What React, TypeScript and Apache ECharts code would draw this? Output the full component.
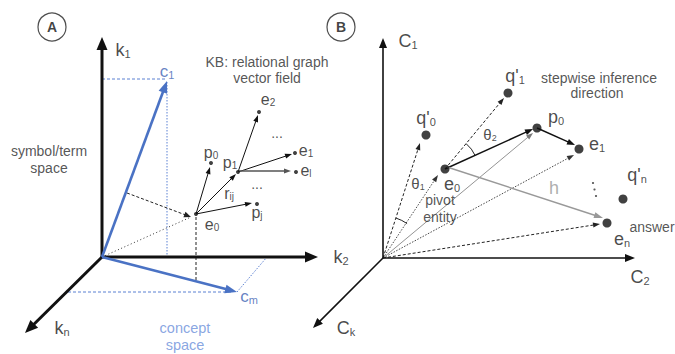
import React, { useEffect, useRef } from "react";
import * as echarts from "echarts";

const W = 675;
const H = 354;
const FONT = "'Liberation Sans', Arial, Helvetica, sans-serif";

// ---------- Panel A: segments [x1, y1, x2, y2] ----------
const axesA = [[102, 257, 102, 37], [102, 257, 318, 257], [102, 257, 25, 333]];
const conceptVectorsA = [[102, 257, 167, 81], [102, 257, 237, 292]];
const conceptDashedA = [[102, 79, 167, 79], [68, 292, 233, 292]];
const conceptDottedA = [[167, 82, 167, 257], [237, 292, 267, 257]];
const projectionArrowA = [[127, 193, 191, 217]];
const projectionDropA = [[196, 217, 196, 281]];
const entityRayA = [[102, 257, 191, 217]];
const relationArrowsA = [[196, 214, 210, 167], [196, 214, 236, 174], [196, 214, 252, 203], [238, 172, 258, 115], [238, 172, 292, 154]];
const relationGrayA = [[238, 171, 291, 171]];
const entityDotsA = [[196, 214], [211, 163], [238, 172], [257, 204], [259, 112], [295, 153], [296, 172]];

// ---------- Panel B ----------
const axesB = [[383, 258, 383, 38], [383, 258, 635, 258], [383, 258, 313, 328]];
const dashedArrowsB = [[383, 258, 420, 143], [383, 258, 600, 224], [445, 169, 504, 98]];
const dottedArrowsB = [[383, 258, 438, 175], [383, 258, 574, 155]];
const grayRayB = [[383, 258, 533, 133]];
const inferencePathB = [[445, 169, 533, 129], [537, 128, 575, 145]];
const hopB = [[447, 167, 603, 218]];
const entityDotsB = [[445, 169], [426, 135], [508, 93], [537, 128], [579, 149], [623, 199], [607, 223]];
const ellipsisDotsB = [[593, 183], [594.5, 189.5], [596, 196]];
const angleArcsB = [[383, 258, 42, 55, 72], [445, 169, 33, 24, 50]]; // cx, cy, r, fromDeg, toDeg
const badges = [["A", 52, 27], ["B", 341, 27]];

// ---------- Labels: [main, sub, centerX, baselineY] ----------
const mathLabelsLarge = [
  ["k", "1", 123, 56], ["k", "2", 341, 263], ["k", "n", 62, 334],
  ["C", "1", 408, 47], ["C", "2", 640, 283], ["C", "k", 346, 334],
  ["q'", "0", 426, 124], ["q'", "1", 515, 82], ["p", "0", 556, 123],
  ["e", "1", 597, 150], ["q'", "n", 637, 181], ["e", "n", 622, 245], ["e", "0", 452, 190],
];
const blueMathLabels = [["c", "1", 167, 77], ["c", "m", 249, 302]];
const grayMathLabels = [["h", "", 554, 194]];
const mathLabelsSmall = [
  ["e", "0", 212, 230], ["p", "0", 211, 158], ["p", "1", 230, 168], ["r", "ij", 229, 199],
  ["p", "j", 257, 218], ["e", "2", 268, 105], ["e", "1", 306, 156], ["e", "l", 306, 176],
];
const angleLabels = [["θ", "1", 418, 189], ["θ", "2", 490, 140]];
const textLabels = [
  ["symbol/term", "", 49, 156], ["space", "", 49, 173],
  ["KB: relational graph", "", 267, 67], ["vector field", "", 267, 83],
  ["stepwise inference", "", 599, 83], ["direction", "", 597, 98],
  ["pivot", "", 440, 205], ["entity", "", 440, 222], ["answer", "", 652, 232],
  ["...", "", 277, 138], ["...", "", 257, 189],
];
const blueTextLabels = [["concept", "", 185, 333], ["space", "", 185, 350]];

function arrowSeries(data: number[][], o: { color: string; width: number; dash?: number[]; head?: [number, number]; z?: number }) {
  return {
    type: "custom",
    coordinateSystem: "cartesian2d",
    clip: false,
    silent: true,
    z: o.z ?? 2,
    data,
    encode: { x: [0, 2], y: [1, 3] },
    renderItem: (_p: any, api: any) => {
      const a = api.coord([api.value(0), api.value(1)]);
      const b = api.coord([api.value(2), api.value(3)]);
      const dx = b[0] - a[0];
      const dy = b[1] - a[1];
      const len = Math.sqrt(dx * dx + dy * dy) || 1;
      const ux = dx / len;
      const uy = dy / len;
      const children: any[] = [];
      let ex = b[0];
      let ey = b[1];
      if (o.head) {
        const [hl, hw] = o.head;
        const bx = b[0] - ux * hl;
        const by = b[1] - uy * hl;
        const nx = -uy * hw / 2;
        const ny = ux * hw / 2;
        ex = b[0] - ux * hl * 0.8;
        ey = b[1] - uy * hl * 0.8;
        children.push({
          type: "polygon",
          shape: { points: [[b[0], b[1]], [bx + nx, by + ny], [bx - nx, by - ny]] },
          style: { fill: o.color },
          z2: 2,
        });
      }
      children.unshift({
        type: "line",
        shape: { x1: a[0], y1: a[1], x2: ex, y2: ey },
        style: { stroke: o.color, lineWidth: o.width, lineDash: o.dash || null, fill: null },
        z2: 1,
      });
      return { type: "group", children };
    },
  };
}

function labelSeries(items: any[], S: number, color: string, bold = false) {
  const s = Math.round(S * 0.62);
  const drop = S * 0.08;
  const pd = 2 * (drop + 0.35 * (S - s));
  return {
    type: "scatter",
    silent: true,
    z: 6,
    symbolSize: 1,
    itemStyle: { color: "rgba(0,0,0,0)" },
    data: items.map((it) => ({
      value: [it[2], it[3] - 0.35 * S],
      main: it[0],
      sub: it[1],
    })),
    label: {
      show: true,
      position: "inside",
      align: "center",
      verticalAlign: "middle",
      color,
      fontFamily: FONT,
      fontSize: S,
      fontWeight: bold ? "bold" : "normal",
      formatter: (p: any) => {
        const d = p.data;
        return d.sub ? `{m|${d.main}}{s|${d.sub}}` : `{m|${d.main}}`;
      },
      rich: {
        m: { fontSize: S, lineHeight: S, fontFamily: FONT, color, fontWeight: bold ? "bold" : "normal" },
        s: { fontSize: s, lineHeight: s, padding: [pd, 0, 0, 0], fontFamily: FONT, color },
      },
    },
  };
}

export default function App() {
  const ref = useRef<HTMLDivElement>(null);
  useEffect(() => {
    if (!ref.current) return;
    const chart = echarts.init(ref.current, undefined, { renderer: "svg" });
    const BLUE = "#4a72c4";
    const option: any = {
      animation: false,
      backgroundColor: "#ffffff",
      grid: { left: 0, right: 0, top: 0, bottom: 0, containLabel: false },
      xAxis: { type: "value", min: 0, max: W, show: false },
      yAxis: { type: "value", min: 0, max: H, inverse: true, show: false },
      series: [
        // Panel A
        arrowSeries(conceptDashedA, { color: "#5b80d2", width: 1, dash: [3, 2] }),
        arrowSeries(conceptDottedA, { color: "#5b80d2", width: 1, dash: [1.5, 1.5] }),
        arrowSeries(projectionArrowA, { color: "#222", width: 1, dash: [3, 2], head: [7, 6] }),
        arrowSeries(projectionDropA, { color: "#222", width: 1, dash: [3, 2] }),
        arrowSeries(entityRayA, { color: "#333", width: 1, dash: [1, 2.5] }),
        arrowSeries(relationArrowsA, { color: "#111", width: 1, head: [7, 5] }),
        arrowSeries(relationGrayA, { color: "#555", width: 1.3, head: [7, 5] }),
        arrowSeries(axesA, { color: "#111", width: 3, head: [13, 11], z: 3 }),
        arrowSeries(conceptVectorsA, { color: BLUE, width: 2.6, head: [12, 9], z: 4 }),
        // Panel B
        arrowSeries(dashedArrowsB, { color: "#222", width: 1, dash: [3, 2], head: [7, 5] }),
        arrowSeries(dottedArrowsB, { color: "#333", width: 0.9, dash: [1.5, 1.5], head: [7, 5] }),
        arrowSeries(grayRayB, { color: "#777", width: 0.8, head: [7, 5] }),
        arrowSeries(inferencePathB, { color: "#111", width: 1.4, head: [8, 6] }),
        arrowSeries(hopB, { color: "#999", width: 1.4, head: [9, 6] }),
        arrowSeries(axesB, { color: "#111", width: 1.6, head: [10, 8], z: 3 }),
        {
          type: "custom",
          coordinateSystem: "cartesian2d",
          clip: false,
          silent: true,
          z: 3,
          data: angleArcsB,
          renderItem: (_p: any, api: any) => {
            const c = api.coord([api.value(0), api.value(1)]);
            const r = api.size([api.value(2), 0])[0];
            return {
              type: "arc",
              shape: {
                cx: c[0], cy: c[1], r,
                startAngle: (-api.value(4) * Math.PI) / 180,
                endAngle: (-api.value(3) * Math.PI) / 180,
                clockwise: true,
              },
              style: { stroke: "#222", lineWidth: 1, fill: null },
            };
          },
        },
        {
          type: "scatter", silent: true, z: 5, symbol: "circle", symbolSize: 4,
          itemStyle: { color: "#111" }, data: entityDotsA,
        },
        {
          type: "scatter", silent: true, z: 5, symbol: "circle", symbolSize: 9,
          itemStyle: { color: "#111" }, data: entityDotsB,
        },
        {
          type: "scatter", silent: true, z: 5, symbol: "circle", symbolSize: 2.2,
          itemStyle: { color: "#333" }, data: ellipsisDotsB,
        },
        {
          type: "scatter", silent: true, z: 5, symbol: "circle", symbolSize: 28,
          itemStyle: { color: "#fff", borderColor: "#222", borderWidth: 1.2 },
          data: badges.map((b) => ({ value: [b[1], b[2]], name: b[0] })),
          label: {
            show: true, position: "inside", formatter: "{b}", color: "#111",
            fontFamily: FONT, fontSize: 14, fontWeight: "bold",
          },
        },
        labelSeries(mathLabelsLarge, 18, "#1a1a1a"),
        labelSeries(blueMathLabels, 17, "#3d62b3"),
        labelSeries(grayMathLabels, 18, "#999"),
        labelSeries(mathLabelsSmall, 16, "#1a1a1a"),
        labelSeries(angleLabels, 15, "#222"),
        labelSeries(textLabels, 14, "#2a2a2a"),
        labelSeries(blueTextLabels, 14.5, "#6b8fda"),
      ],
    };
    chart.setOption(option);
    return () => chart.dispose();
  }, []);
  return (
    <div
      ref={ref}
      style={{ position: "fixed", left: 0, top: 0, width: W, height: H, background: "#fff" }}
    />
  );
}
